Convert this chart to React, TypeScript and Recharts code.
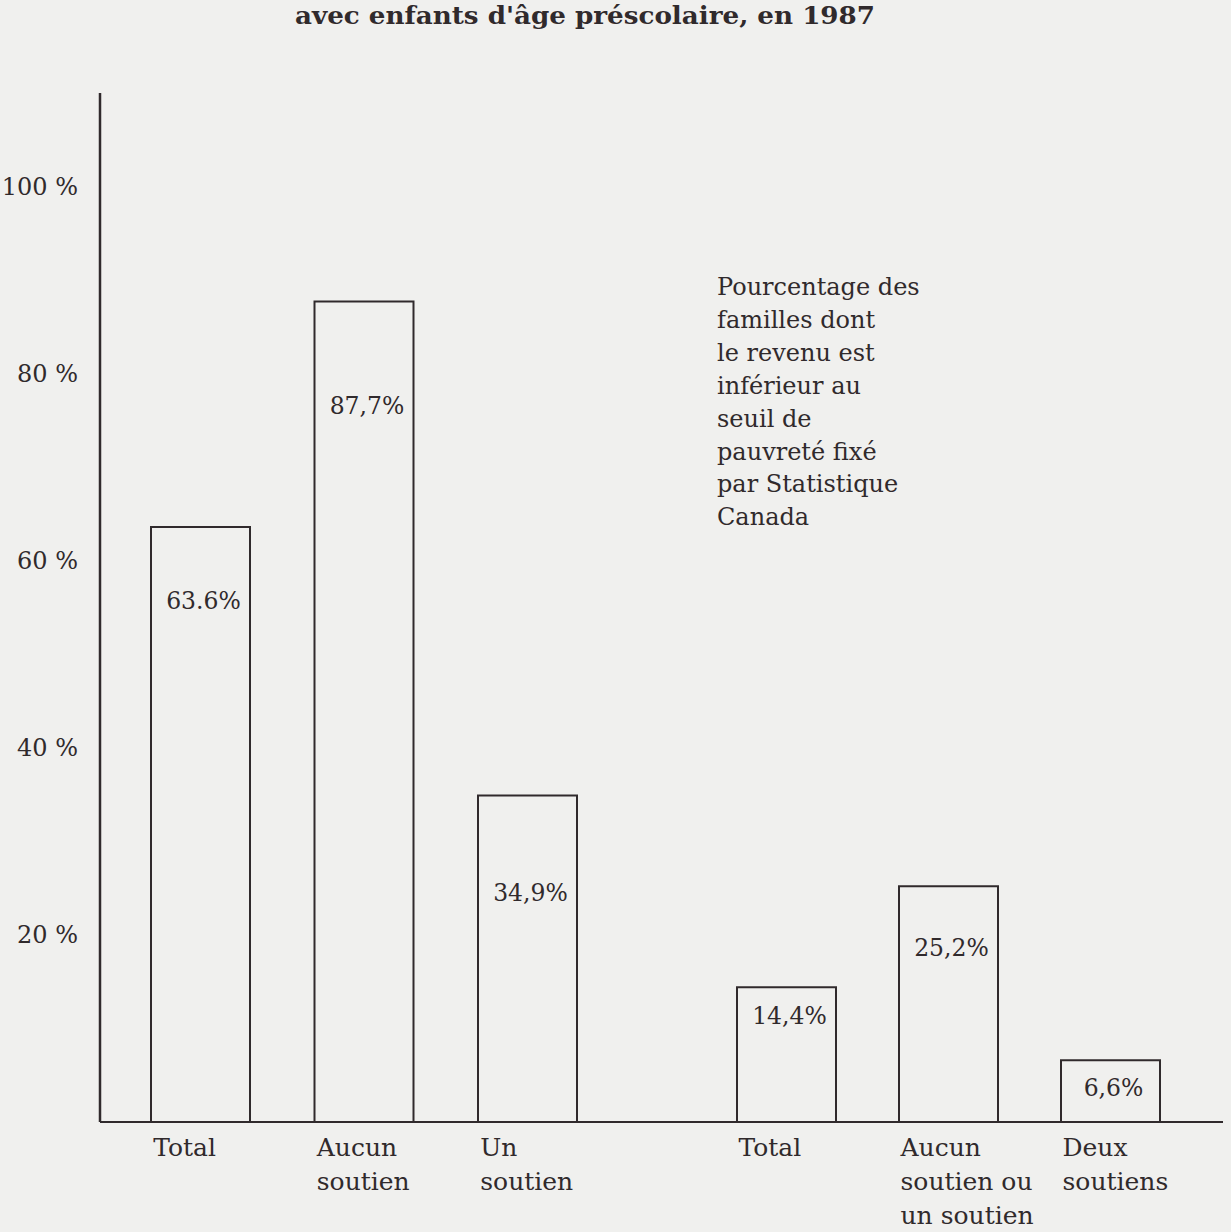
import React from 'react';
import { BarChart, Bar, XAxis, YAxis, LabelList } from 'recharts';

// left group: all families
const leftCategories = ['Total', 'Aucun\nsoutien', 'Un\nsoutien'];
const leftValues = [63.6, 87.7, 34.9];
const leftLabels = ['63.6%', '87,7%', '34,9%'];

// right group
const rightCategories = ['Total', 'Aucun\nsoutien ou\nun soutien', 'Deux\nsoutiens'];
const rightValues = [14.4, 25.2, 6.6];
const rightLabels = ['14,4%', '25,2%', '6,6%'];

const yTicks = [20, 40, 60, 80, 100];

const titleLine = "avec enfants d'âge préscolaire, en 1987";
const noteLines = [
  'Pourcentage des',
  'familles dont',
  'le revenu est',
  'inférieur au',
  'seuil de',
  'pauvreté fixé',
  'par Statistique',
  'Canada',
];

const INK = '#302a2c';
const PAPER = '#f0f0ee';
const FONT = '"DejaVu Serif", "Liberation Serif", serif';
const BAR_W = 99;
const H = 1232;
const MARGIN_TOP = 93;
const X_AXIS_H = 110;
const Y_DOMAIN: [number, number] = [0, 110];

const leftData = leftCategories.map((name, i) => ({ name, value: leftValues[i] }));
const rightData = rightCategories.map((name, i) => ({ name, value: rightValues[i] }));

// distance of each value label below the bar top
const leftLabelOffsets = [74, 104, 97];
const rightLabelOffsets = [29, 62, 28];

const CategoryTick = (props: any) => {
  const { x, y, payload } = props;
  const lines = String(payload.value).split('\n');
  const left = x - BAR_W / 2 + 2;
  return (
    <text x={left} y={y} textAnchor="start" fontFamily={FONT} fontSize={25} fill={INK}>
      {lines.map((l, i) => (
        <tspan key={i} x={left} y={y + 34 + i * 34}>
          {l}
        </tspan>
      ))}
    </text>
  );
};

const makeValueLabel = (labels: string[], offsets: number[], values: number[]) => (props: any) => {
  const { x, y, width, value } = props;
  let index = props.index;
  if (index == null) index = values.indexOf(Number(value));
  return (
    <text
      x={Number(x) + Number(width) / 2 + 3}
      y={Number(y) + offsets[index]}
      textAnchor="middle"
      dominantBaseline="central"
      fontFamily={FONT}
      fontSize={23.5}
      fill={INK}
    >
      {labels[index]}
    </text>
  );
};

const App: React.FC = () => {
  return (
    <div
      style={{
        position: 'absolute',
        left: 0,
        top: 0,
        width: 1231,
        height: H,
        background: PAPER,
        overflow: 'hidden',
      }}
    >
      <div style={{ position: 'absolute', left: 0, top: 0 }}>
        <BarChart width={660} height={H} data={leftData} margin={{ top: MARGIN_TOP, right: 0, bottom: 0, left: 0 }}>
          <XAxis
            dataKey="name"
            interval={0}
            height={X_AXIS_H}
            padding={{ left: 19, right: 50.5 }}
            axisLine={{ stroke: INK, strokeWidth: 2 }}
            tickLine={false}
            tickSize={0}
            tickMargin={0}
            tick={<CategoryTick />}
          />
          <YAxis
            width={100}
            domain={Y_DOMAIN}
            ticks={yTicks}
            interval={0}
            tickFormatter={(v) => `${v} %`}
            axisLine={{ stroke: INK, strokeWidth: 2.5 }}
            tickLine={false}
            tickSize={0}
            tickMargin={22}
            tick={{ fill: INK, fontSize: 24, fontFamily: FONT }}
          />
          <Bar dataKey="value" barSize={BAR_W} fill="none" stroke={INK} strokeWidth={2} isAnimationActive={false}>
            <LabelList dataKey="value" content={makeValueLabel(leftLabels, leftLabelOffsets, leftValues)} />
          </Bar>
        </BarChart>
      </div>

      <div style={{ position: 'absolute', left: 660, top: 0 }}>
        <BarChart width={571} height={H} data={rightData} margin={{ top: MARGIN_TOP, right: 8, bottom: 0, left: 0 }}>
          <XAxis
            dataKey="name"
            interval={0}
            height={X_AXIS_H}
            padding={{ left: 45, right: 32 }}
            axisLine={{ stroke: INK, strokeWidth: 2 }}
            tickLine={false}
            tickSize={0}
            tickMargin={0}
            tick={<CategoryTick />}
          />
          <YAxis hide domain={Y_DOMAIN} ticks={yTicks} />
          <Bar dataKey="value" barSize={BAR_W} fill="none" stroke={INK} strokeWidth={2} isAnimationActive={false}>
            <LabelList dataKey="value" content={makeValueLabel(rightLabels, rightLabelOffsets, rightValues)} />
          </Bar>
        </BarChart>
      </div>

      {/* title line and side note */}
      <svg
        width={1231}
        height={H}
        style={{ position: 'absolute', left: 0, top: 0, pointerEvents: 'none' }}
      >
        <text
          x={295}
          y={24}
          fontFamily={FONT}
          fontWeight="bold"
          fontSize={24}
          fill={INK}
          textLength={580}
          lengthAdjust="spacingAndGlyphs"
        >
          {titleLine}
        </text>
        <text fontFamily={FONT} fontSize={24} fill={INK}>
          {noteLines.map((l, i) => (
            <tspan key={i} x={717} y={295 + i * 32.9}>
              {l}
            </tspan>
          ))}
        </text>
      </svg>
    </div>
  );
};

export default App;
